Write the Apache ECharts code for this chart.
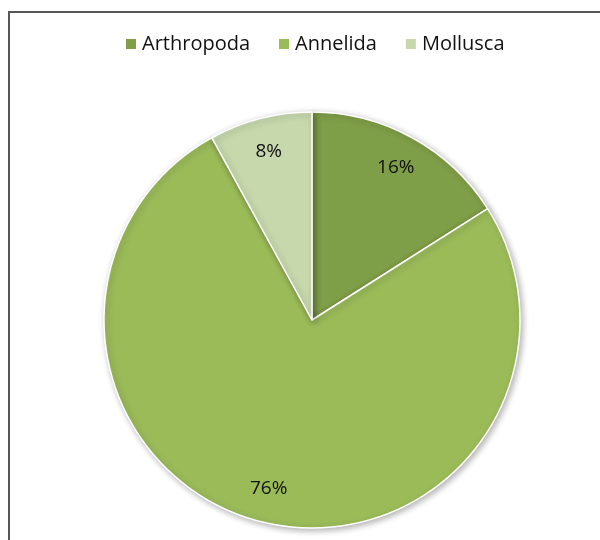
<!DOCTYPE html>
<html>
<head>
<meta charset="utf-8">
<script src="https://cdn.jsdelivr.net/npm/echarts@6/dist/echarts.min.js"></script>
<style>
html,body{margin:0;padding:0;background:#fff;}
#main{width:600px;height:540px;}
</style>
</head>
<body>
<div id="main"></div>
<script>
var categories = ['Arthropoda', 'Annelida', 'Mollusca'];
var values = [16, 76, 8];
var colors = ['#7f9e48', '#9bbb59', '#c7d8ad'];

var FONT = 'Open Sans';
var data = categories.map(function (c, i) {
  return { name: c, value: values[i], itemStyle: { color: colors[i] } };
});
var labelData = categories.map(function (c, i) {
  return { name: c, value: values[i] };
});

var chart = echarts.init(document.getElementById('main'));
chart.setOption({
  backgroundColor: '#ffffff',
  animation: false,
  graphic: [{
    type: 'rect',
    shape: { x: 9, y: 12, width: 700, height: 700 },
    style: { fill: 'none', stroke: '#575757', lineWidth: 2 },
    z: -1
  }],
  legend: {
    data: categories,
    left: 119,
    top: 29,
    icon: 'rect',
    itemWidth: 12,
    itemHeight: 12,
    itemGap: 27,
    textStyle: { fontFamily: FONT, fontSize: 20, color: '#111111', padding: [0, 0, 0, 0] }
  },
  series: [{
    type: 'pie',
    center: [312, 320],
    radius: [0, 208],
    startAngle: 90,
    clockwise: true,
    data: data,
    label: { show: false },
    labelLine: { show: false },
    itemStyle: {
      borderColor: '#ffffff',
      borderWidth: 1.5,
      shadowBlur: 6,
      shadowOffsetX: 2,
      shadowOffsetY: 2,
      shadowColor: 'rgba(0,0,0,0.3)'
    },
    emphasis: { disabled: true }
  }, {
    type: 'pie',
    center: [312, 320],
    radius: [134, 208],
    startAngle: 90,
    clockwise: true,
    data: labelData,
    silent: true,
    legendHoverLink: false,
    itemStyle: { color: 'rgba(0,0,0,0)', borderWidth: 0 },
    label: {
      show: true,
      position: 'inside',
      formatter: function (p) { return p.value + '%'; },
      fontFamily: FONT,
      fontSize: 19,
      color: '#111111'
    },
    labelLine: { show: false },
    emphasis: { disabled: true }
  }]
});
</script>
</body>
</html>
